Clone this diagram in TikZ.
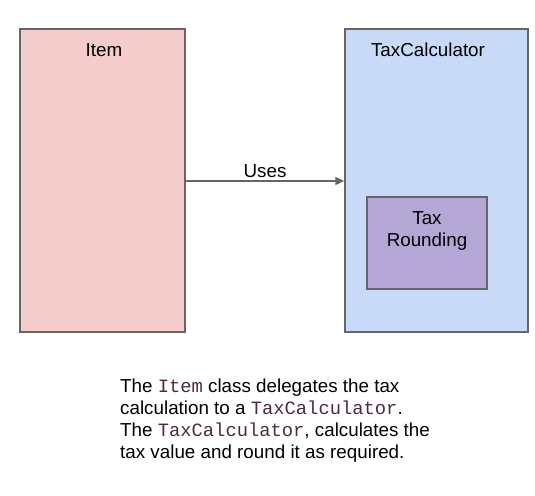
\documentclass[tikz,border=0pt]{standalone}
\usepackage{fontspec}
\setmainfont{Liberation Sans}
\newfontfamily\codefont{Liberation Mono}
\definecolor{itemfill}{HTML}{F4CCCC}
\definecolor{calcfill}{HTML}{C9DAF8}
\definecolor{roundfill}{HTML}{B4A7D6}
\definecolor{edge}{HTML}{666666}
\definecolor{codecol}{HTML}{4C2A44}
\usetikzlibrary{arrows.meta}
\newcommand{\cd}[1]{{\codefont\color{codecol}#1}}
\begin{document}
\begin{tikzpicture}[x=1pt,y=-1pt,
  box/.style={draw=edge,line width=1.5pt,inner sep=0pt},
  lbl/.style={font=\fontsize{18.8}{22}\selectfont,text=black},
  conn/.style={draw=edge,line width=1.5pt,-{Triangle[length=9pt,width=8pt]}}]
\useasboundingbox (0,0) rectangle (535,495);
\node[box,fill=itemfill,minimum width=165pt,minimum height=303pt] (item) at (102.5,180.5) {};
\node[box,fill=calcfill,minimum width=183pt,minimum height=303pt] (calc) at (436.5,180.5) {};
\node[box,fill=roundfill,minimum width=120pt,minimum height=92pt] (round) at (427,243) {};
\node[lbl] (itemlbl) at (104,50) {Item};
\node[lbl] (calclbl) at (428,50) {TaxCalculator};
\node[lbl,align=center] (roundlbl) at (427,231) {Tax\\Rounding};
\coordinate (a1) at (item.east |- 0,181);
\coordinate (a2) at (calc.west |- 0,181);
\draw[conn] (a1) -- (a2) node[midway,above=-0.5pt,lbl] (uses) {Uses};
\node[lbl,anchor=north west,align=left,inner sep=0pt] (desc) at (120,378.5)
 {The \cd{Item} class delegates the tax\\
  calculation to a \cd{TaxCalculator}.\\
  The \cd{TaxCalculator}, calculates the\\
  tax value and round it as required.};
\end{tikzpicture}
\end{document}
